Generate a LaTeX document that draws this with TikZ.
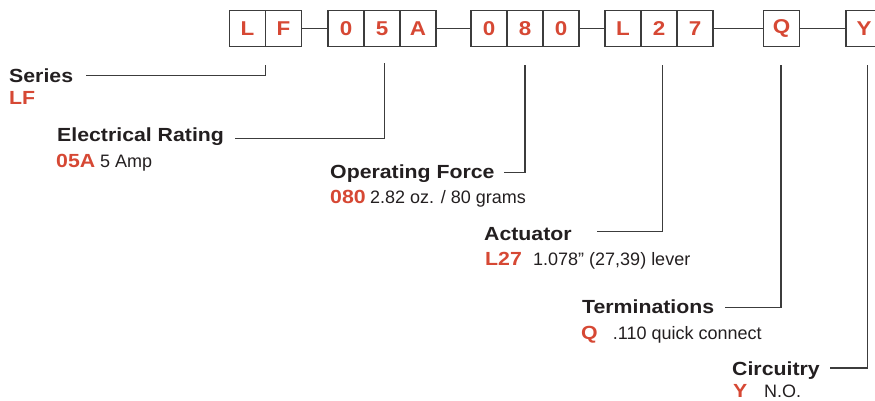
\documentclass[tikz,border=0pt]{standalone}
\usepackage{fontspec}
\setmainfont{Liberation Sans}
\newfontfamily\labfont[FakeStretch=1.12]{Liberation Sans}
\definecolor{codered}{RGB}{214,72,52}
\definecolor{ink}{RGB}{35,31,32}
\definecolor{rule}{RGB}{60,60,60}
\tikzset{
	codebox/.style={draw=rule, line width=1.4pt, minimum size=36pt, inner sep=0pt,
		text=codered, font=\labfont\bfseries\fontsize{20}{20}\selectfont},
	title/.style={anchor=base west, inner sep=0pt, text=ink,
		font=\labfont\bfseries\fontsize{19}{19}\selectfont},
	code/.style={anchor=base west, inner sep=0pt, text=codered,
		font=\labfont\bfseries\fontsize{19}{19}\selectfont},
	desc/.style={anchor=base west, inner sep=0pt, text=ink,
		font=\fontsize{18}{18}\selectfont},
	leader/.style={draw=rule, line width=1.3pt}
}
\begin{document}
\begin{tikzpicture}[x=1pt, y=-1pt]
\useasboundingbox (0,0) rectangle (875,401);

% part number boxes
\foreach \n/\x/\c in {bL/247.5/L, bF/283.5/F, bA0/346/0, bA5/382/5, bAA/418/A,
	bO0/489/0, bO8/525/8, bO00/561/0, bL2/623/L, bL22/659/2, bL7/695/7,
	bQ/781.5/Q, bY/864/Y}
{
	\node[codebox] (\n) at (\x, 28.5) {\c};
}
\draw[leader] (bF) -- (bA0);
\draw[leader] (bAA) -- (bO0);
\draw[leader] (bO00) -- (bL2);
\draw[leader] (bL7) -- (bQ);
\draw[leader] (bQ) -- (bY);

% labels
\node[title] (series) at (9, 82.5) {Series};
\node[code] (lf) at (9, 105) {LF};

\node[title] (elec) at (57, 141.5) {Electrical Rating};
\node[code] (c05a) at (56, 167.3) {05A};
\node[desc] (d05a) at (100, 167.3) {5 Amp};

\node[title] (force) at (330, 178) {Operating Force};
\node[code] (c080) at (330, 203) {080};
\node[desc] (d080) at (370, 203) {2.82 oz. / 80 grams};

\node[title] (act) at (484, 240.7) {Actuator};
\node[code] (cl27) at (485, 265) {L27};
\node[desc] (dl27) at (533, 265) {1.078” (27,39) lever};

\node[title] (term) at (582, 313) {Terminations};
\node[code] (cq) at (581, 339.3) {Q};
\node[desc] (dq) at (612.7, 339.3) {.110 quick connect};

\node[title] (circ) at (732, 375) {Circuitry};
\node[code] (cy) at (733, 397) {Y};
\node[desc] (dy) at (764, 397) {N.O.};

% leader lines
\coordinate (series-in) at (86, 75.7);   \coordinate (series-up) at (265.3, 65);
\coordinate (elec-in) at (235, 138.3);   \coordinate (elec-up) at (384.3, 63.5);
\coordinate (force-in) at (504, 172.7);  \coordinate (force-up) at (525, 65);
\coordinate (act-in) at (597, 231.7);    \coordinate (act-up) at (662.5, 65);
\coordinate (term-in) at (725, 307.7);   \coordinate (term-up) at (781, 65);
\coordinate (circ-in) at (830, 368);     \coordinate (circ-up) at (867.7, 65);
\foreach \l in {series, elec, force, act, term, circ}
{
	\draw[leader] (\l-in) -| (\l-up);
}
\end{tikzpicture}
\end{document}
